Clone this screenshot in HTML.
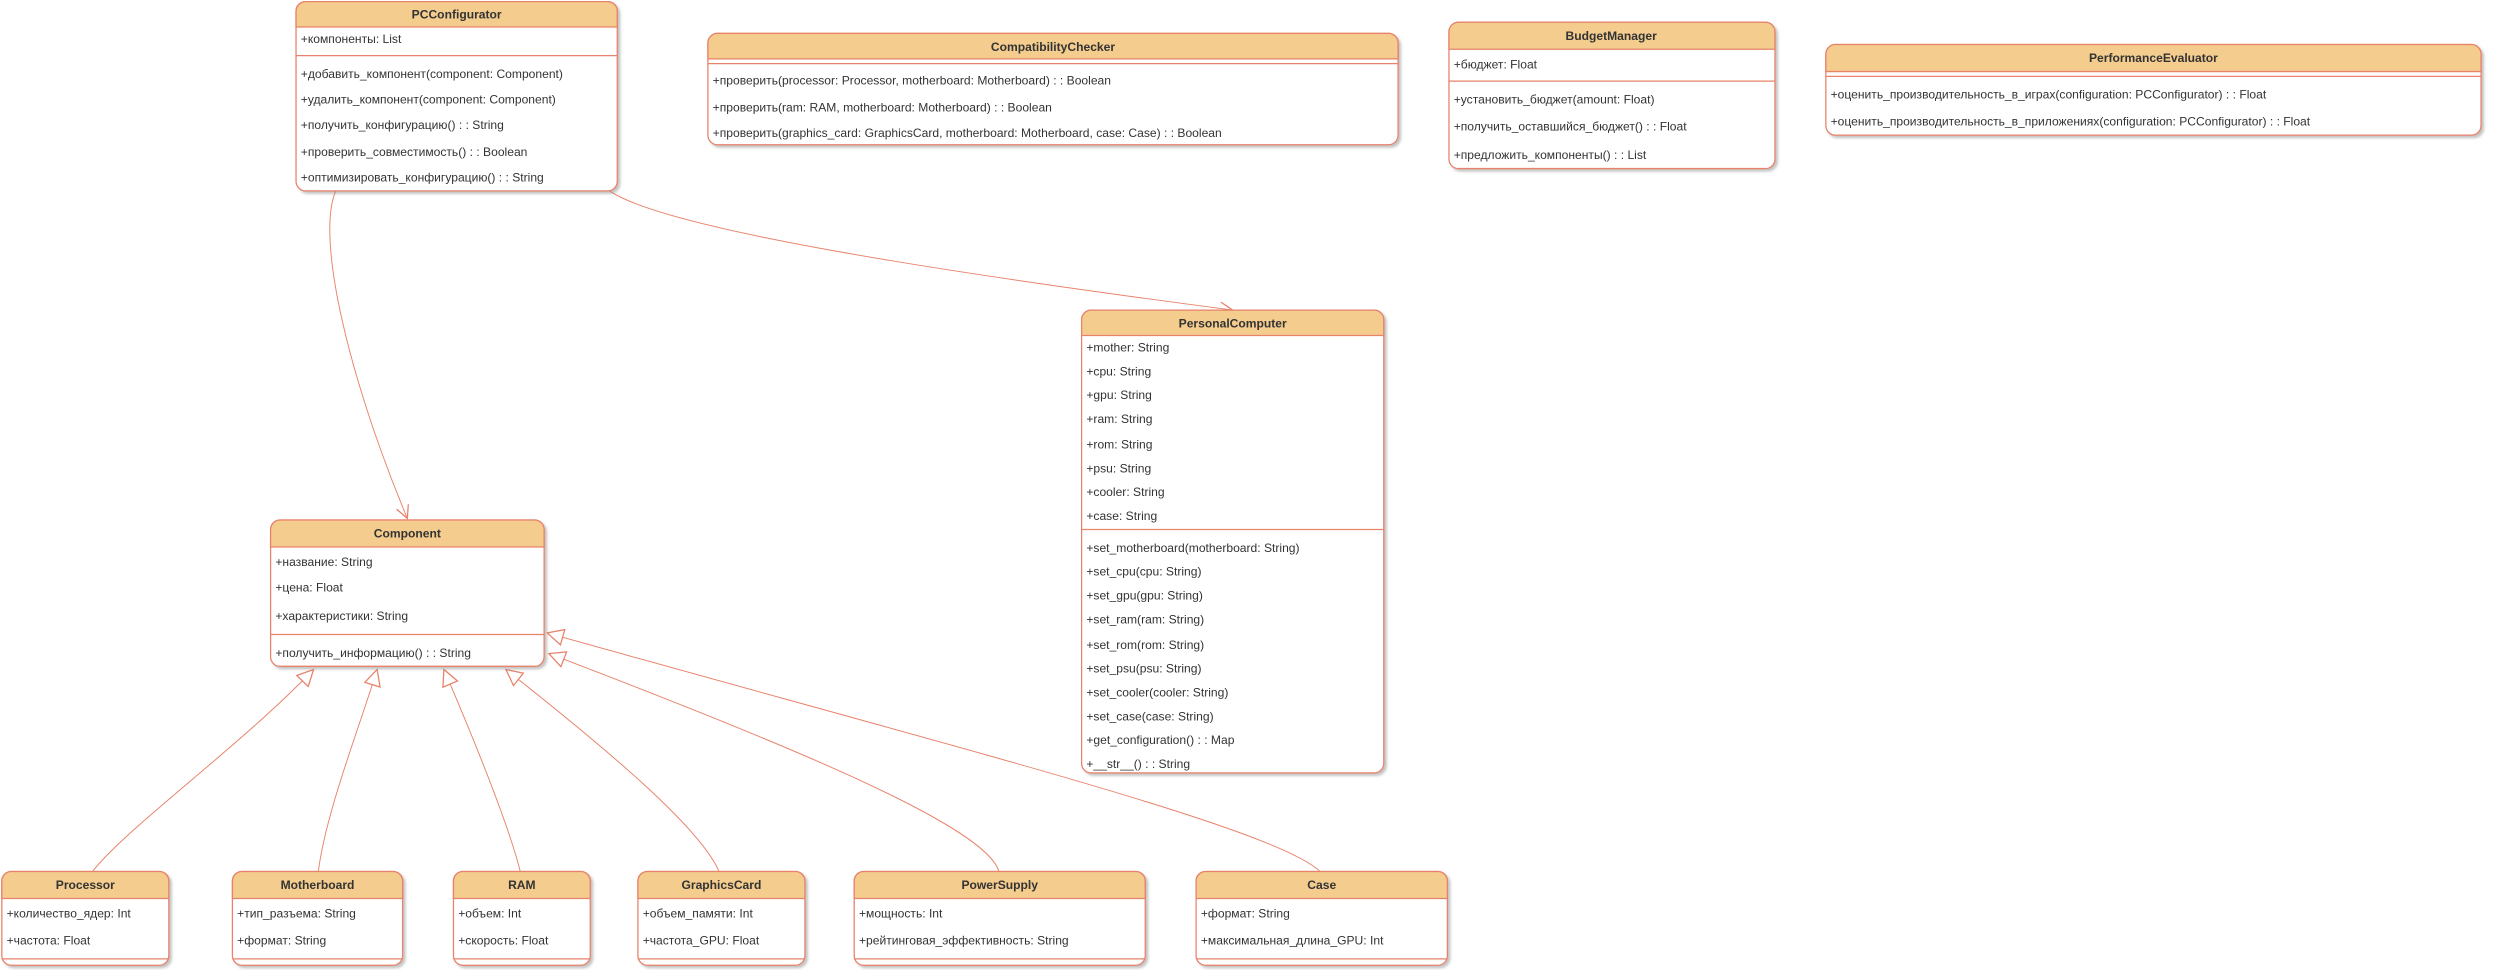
<!DOCTYPE html>
<html><head><meta charset="utf-8"><style>
html,body{margin:0;padding:0;background:#fff;}
svg{display:block;}
text{font-family:"Liberation Sans","DejaVu Sans",sans-serif;font-size:7.6px;fill:#333;}
.t{font-weight:bold;text-anchor:middle;}
.b{fill:#fff;stroke:#e8826a;stroke-width:0.8;}
.h{fill:#f3cc8e;stroke:#e8826a;stroke-width:0.8;}
.l{stroke:#e8826a;stroke-width:0.8;fill:none;}
.c{stroke:#e8826a;stroke-width:0.6;fill:none;}
</style></head><body>
<svg width="2494" height="978" viewBox="0 0 1568 615" xmlns="http://www.w3.org/2000/svg">
<defs>
<marker id="open" markerWidth="12" markerHeight="12" refX="9" refY="5" orient="auto" markerUnits="userSpaceOnUse"><path d="M1,1 L9,5 L1,9" fill="none" stroke="#e8826a" stroke-width="0.8"/></marker>
<marker id="tri" markerWidth="14" markerHeight="14" refX="11" refY="6" orient="auto" markerUnits="userSpaceOnUse"><path d="M1,1 L11,6 L1,11 Z" fill="#fff" stroke="#e8826a" stroke-width="0.8"/></marker>
<filter id="sh" x="-5%" y="-5%" width="110%" height="110%"><feDropShadow dx="1.5" dy="1.5" stdDeviation="0.8" flood-color="#888" flood-opacity="0.5"/></filter>
</defs>

<!-- connectors -->
<path class="c" d="M211,120 C198,150 220,240 256,326" marker-end="url(#open)"/>
<path class="c" d="M383,120 C420,145 600,172 775,195" marker-end="url(#open)"/>
<path class="c" d="M58,548 C80,520 150,470 197,421" marker-end="url(#tri)"/>
<path class="c" d="M200,548 C205,510 225,460 237,421" marker-end="url(#tri)"/>
<path class="c" d="M327,548 C320,520 300,470 279,421" marker-end="url(#tri)"/>
<path class="c" d="M452,548 C440,520 380,470 318,421" marker-end="url(#tri)"/>
<path class="c" d="M628,548 C620,520 500,470 345,411" marker-end="url(#tri)"/>
<path class="c" d="M830,548 C800,520 600,470 344,398" marker-end="url(#tri)"/>

<!-- PCConfigurator -->
<g filter="url(#sh)"><rect class="b" x="186" y="1" width="202" height="119" rx="6"/></g>
<path class="h" d="M186,17 V7 a6,6 0 0 1 6,-6 H382 a6,6 0 0 1 6,6 V17 Z"/>
<text class="t" x="287" y="11.5">PCConfigurator</text>
<text x="189" y="27">+компоненты: List</text>
<line class="l" x1="186" y1="35" x2="388" y2="35"/>
<text x="189" y="49">+добавить_компонент(component: Component)</text>
<text x="189" y="65">+удалить_компонент(component: Component)</text>
<text x="189" y="81">+получить_конфигурацию() : : String</text>
<text x="189" y="98">+проверить_совместимость() : : Boolean</text>
<text x="189" y="114">+оптимизировать_конфигурацию() : : String</text>

<!-- CompatibilityChecker -->
<g filter="url(#sh)"><rect class="b" x="445" y="21" width="434" height="70" rx="6"/></g>
<path class="h" d="M445,37 V27 a6,6 0 0 1 6,-6 H873 a6,6 0 0 1 6,6 V37 Z"/>
<text class="t" x="662" y="32">CompatibilityChecker</text>
<line class="l" x1="445" y1="40" x2="879" y2="40"/>
<text x="448" y="53">+проверить(processor: Processor, motherboard: Motherboard) : : Boolean</text>
<text x="448" y="70">+проверить(ram: RAM, motherboard: Motherboard) : : Boolean</text>
<text x="448" y="86">+проверить(graphics_card: GraphicsCard, motherboard: Motherboard, case: Case) : : Boolean</text>

<!-- BudgetManager -->
<g filter="url(#sh)"><rect class="b" x="911" y="14" width="205" height="92" rx="6"/></g>
<path class="h" d="M911,31 V20 a6,6 0 0 1 6,-6 H1110 a6,6 0 0 1 6,6 V31 Z"/>
<text class="t" x="1013" y="25">BudgetManager</text>
<text x="914" y="43">+бюджет: Float</text>
<line class="l" x1="911" y1="51" x2="1116" y2="51"/>
<text x="914" y="65">+установить_бюджет(amount: Float)</text>
<text x="914" y="82">+получить_оставшийся_бюджет() : : Float</text>
<text x="914" y="100">+предложить_компоненты() : : List</text>

<!-- PerformanceEvaluator -->
<g filter="url(#sh)"><rect class="b" x="1148" y="28" width="412" height="57" rx="6"/></g>
<path class="h" d="M1148,45 V34 a6,6 0 0 1 6,-6 H1554 a6,6 0 0 1 6,6 V45 Z"/>
<text class="t" x="1354" y="39">PerformanceEvaluator</text>
<line class="l" x1="1148" y1="48" x2="1560" y2="48"/>
<text x="1151" y="62">+оценить_производительность_в_играх(configuration: PCConfigurator) : : Float</text>
<text x="1151" y="79">+оценить_производительность_в_приложениях(configuration: PCConfigurator) : : Float</text>

<!-- PersonalComputer -->
<g filter="url(#sh)"><rect class="b" x="680" y="195" width="190" height="291" rx="6"/></g>
<path class="h" d="M680,211 V201 a6,6 0 0 1 6,-6 H864 a6,6 0 0 1 6,6 V211 Z"/>
<text class="t" x="775" y="206">PersonalComputer</text>
<text x="683" y="221">+mother: String</text>
<text x="683" y="236">+cpu: String</text>
<text x="683" y="251">+gpu: String</text>
<text x="683" y="266">+ram: String</text>
<text x="683" y="282">+rom: String</text>
<text x="683" y="297">+psu: String</text>
<text x="683" y="312">+cooler: String</text>
<text x="683" y="327">+case: String</text>
<line class="l" x1="680" y1="333" x2="870" y2="333"/>
<text x="683" y="347">+set_motherboard(motherboard: String)</text>
<text x="683" y="362">+set_cpu(cpu: String)</text>
<text x="683" y="377">+set_gpu(gpu: String)</text>
<text x="683" y="392">+set_ram(ram: String)</text>
<text x="683" y="408">+set_rom(rom: String)</text>
<text x="683" y="423">+set_psu(psu: String)</text>
<text x="683" y="438">+set_cooler(cooler: String)</text>
<text x="683" y="453">+set_case(case: String)</text>
<text x="683" y="468">+get_configuration() : : Map</text>
<text x="683" y="483">+__str__() : : String</text>

<!-- Component -->
<g filter="url(#sh)"><rect class="b" x="170" y="327" width="172" height="92" rx="6"/></g>
<path class="h" d="M170,344 V333 a6,6 0 0 1 6,-6 H336 a6,6 0 0 1 6,6 V344 Z"/>
<text class="t" x="256" y="338">Component</text>
<text x="173" y="356">+название: String</text>
<text x="173" y="372">+цена: Float</text>
<text x="173" y="390">+характеристики: String</text>
<line class="l" x1="170" y1="399" x2="342" y2="399"/>
<text x="173" y="413">+получить_информацию() : : String</text>

<!-- bottom classes -->
<g filter="url(#sh)"><rect class="b" x="1" y="548" width="105" height="59" rx="6"/></g>
<path class="h" d="M1,565 V554 a6,6 0 0 1 6,-6 H100 a6,6 0 0 1 6,6 V565 Z"/>
<text class="t" x="53.5" y="559">Processor</text>
<text x="4" y="577">+количество_ядер: Int</text>
<text x="4" y="594">+частота: Float</text>
<line class="l" x1="1" y1="603" x2="106" y2="603"/>

<g filter="url(#sh)"><rect class="b" x="146" y="548" width="107" height="59" rx="6"/></g>
<path class="h" d="M146,565 V554 a6,6 0 0 1 6,-6 H247 a6,6 0 0 1 6,6 V565 Z"/>
<text class="t" x="199.5" y="559">Motherboard</text>
<text x="149" y="577">+тип_разъема: String</text>
<text x="149" y="594">+формат: String</text>
<line class="l" x1="146" y1="603" x2="253" y2="603"/>

<g filter="url(#sh)"><rect class="b" x="285" y="548" width="86" height="59" rx="6"/></g>
<path class="h" d="M285,565 V554 a6,6 0 0 1 6,-6 H365 a6,6 0 0 1 6,6 V565 Z"/>
<text class="t" x="328" y="559">RAM</text>
<text x="288" y="577">+объем: Int</text>
<text x="288" y="594">+скорость: Float</text>
<line class="l" x1="285" y1="603" x2="371" y2="603"/>

<g filter="url(#sh)"><rect class="b" x="401" y="548" width="105" height="59" rx="6"/></g>
<path class="h" d="M401,565 V554 a6,6 0 0 1 6,-6 H500 a6,6 0 0 1 6,6 V565 Z"/>
<text class="t" x="453.5" y="559">GraphicsCard</text>
<text x="404" y="577">+объем_памяти: Int</text>
<text x="404" y="594">+частота_GPU: Float</text>
<line class="l" x1="401" y1="603" x2="506" y2="603"/>

<g filter="url(#sh)"><rect class="b" x="537" y="548" width="183" height="59" rx="6"/></g>
<path class="h" d="M537,565 V554 a6,6 0 0 1 6,-6 H714 a6,6 0 0 1 6,6 V565 Z"/>
<text class="t" x="628.5" y="559">PowerSupply</text>
<text x="540" y="577">+мощность: Int</text>
<text x="540" y="594">+рейтинговая_эффективность: String</text>
<line class="l" x1="537" y1="603" x2="720" y2="603"/>

<g filter="url(#sh)"><rect class="b" x="752" y="548" width="158" height="59" rx="6"/></g>
<path class="h" d="M752,565 V554 a6,6 0 0 1 6,-6 H904 a6,6 0 0 1 6,6 V565 Z"/>
<text class="t" x="831" y="559">Case</text>
<text x="755" y="577">+формат: String</text>
<text x="755" y="594">+максимальная_длина_GPU: Int</text>
<line class="l" x1="752" y1="603" x2="910" y2="603"/>
</svg>
</body></html>
